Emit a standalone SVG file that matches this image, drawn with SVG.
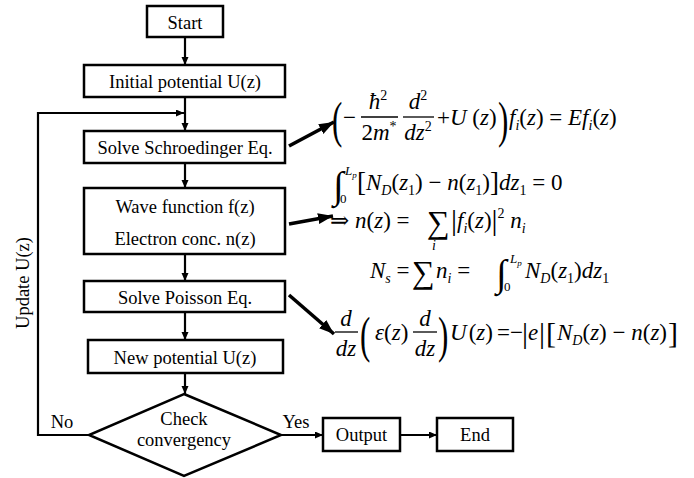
<svg xmlns="http://www.w3.org/2000/svg" width="694" height="478" viewBox="0 0 694 478">
  <style>
    .box { fill: #fff; stroke: #000; stroke-width: 2.5; }
    .lbl { font-family: 'Liberation Serif', 'DejaVu Serif', serif; font-size: 18.5px; fill: #000; text-anchor: middle; }
    .edge { fill: none; stroke: #000; stroke-width: 2.2; }
    .fat { fill: none; stroke: #000; stroke-width: 3.6; }
    .m { font-family: 'Liberation Serif', 'DejaVu Serif', serif; font-size: 23px; fill: #000; }
    .it { font-style: italic; }
    .sub { font-size: 14px; }
    .lim { font-size: 13px; }
    .limsub { font-size: 9px; }
    .big { font-size: 50px; }
    .op { font-size: 32px; }
    .int { font-size: 38px; }
    .tall { font-size: 30px; }
    .brk { font-size: 27px; }
    .bar { stroke: #000; stroke-width: 1.3; }
  </style>
  <defs>
    <marker id="head" markerUnits="userSpaceOnUse" markerWidth="9" markerHeight="8" refX="8" refY="3.5" orient="auto">
      <path d="M0,0 L8,3.5 L0,7 z" fill="#000"/>
    </marker>
    <marker id="bighead" markerUnits="userSpaceOnUse" markerWidth="16" markerHeight="12" refX="15" refY="5.5" orient="auto">
      <path d="M0,0 L15,5.5 L0,11 z" fill="#000"/>
    </marker>
  </defs>

  <rect width="694" height="478" fill="#fff"/>

  <!-- connectors -->
  <g id="connectors">
    <line class="edge" x1="185" y1="37" x2="185" y2="65" marker-end="url(#head)"/>
    <line class="edge" x1="185" y1="97" x2="185" y2="131" marker-end="url(#head)"/>
    <line class="edge" x1="185" y1="163" x2="185" y2="188" marker-end="url(#head)"/>
    <line class="edge" x1="185" y1="254" x2="185" y2="281" marker-end="url(#head)"/>
    <line class="edge" x1="185" y1="312" x2="185" y2="340" marker-end="url(#head)"/>
    <line class="edge" x1="185" y1="373" x2="185" y2="394" marker-end="url(#head)"/>
    <polyline class="edge" points="89,435 38,435 38,113 184,113" marker-end="url(#head)"/>
    <line class="edge" x1="281" y1="435" x2="323" y2="435" marker-end="url(#head)"/>
    <line class="edge" x1="400" y1="435" x2="437" y2="435" marker-end="url(#head)"/>
    <line class="fat" x1="289" y1="146" x2="334" y2="122" marker-end="url(#bighead)"/>
    <line class="fat" x1="289" y1="224" x2="333" y2="216" marker-end="url(#bighead)"/>
    <line class="fat" x1="289" y1="295" x2="334" y2="334" marker-end="url(#bighead)"/>
    <text class="lbl" x="62" y="428">No</text>
    <text class="lbl" x="296" y="428">Yes</text>
    <text class="lbl" transform="translate(29,283) rotate(-90)">Update U(z)</text>
  </g>

  <!-- flowchart nodes -->
  <g id="start">
    <rect class="box" x="147" y="6" width="76" height="31"/>
    <text class="lbl" x="185" y="29">Start</text>
  </g>
  <g id="initial">
    <rect class="box" x="84" y="65" width="201" height="32"/>
    <text class="lbl" x="185" y="88">Initial potential U(z)</text>
  </g>
  <g id="schroedinger">
    <rect class="box" x="84" y="131" width="201" height="32"/>
    <text class="lbl" x="185" y="154">Solve Schroedinger Eq.</text>
  </g>
  <g id="wave">
    <rect class="box" x="84" y="188" width="201" height="66"/>
    <text class="lbl" x="185" y="213">Wave function f(z)</text>
    <text class="lbl" x="185" y="245">Electron conc. n(z)</text>
  </g>
  <g id="poisson">
    <rect class="box" x="84" y="281" width="201" height="31"/>
    <text class="lbl" x="185" y="304">Solve Poisson Eq.</text>
  </g>
  <g id="newpot">
    <rect class="box" x="88" y="340" width="195" height="33"/>
    <text class="lbl" x="185" y="364">New potential U(z)</text>
  </g>
  <g id="check">
    <polygon class="box" points="184,394 281,435 184,476 89,435"/>
    <text class="lbl" x="184" y="425">Check</text>
    <text class="lbl" x="184" y="446">convergency</text>
  </g>
  <g id="output">
    <rect class="box" x="323" y="418" width="77" height="33"/>
    <text class="lbl" x="361.5" y="441">Output</text>
  </g>
  <g id="end">
    <rect class="box" x="437" y="418" width="76" height="33"/>
    <text class="lbl" x="475" y="441">End</text>
  </g>

  <!-- Schroedinger equation -->
  <g id="eq-schroedinger">
    <text class="m big" transform="translate(332,137) scale(0.62,1)">(</text>
    <text class="m" x="343" y="125">−</text>
    <text class="m it" x="378" y="109" text-anchor="middle">ħ<tspan class="sub" font-style="normal" dy="-9">2</tspan></text>
    <line class="bar" x1="361" y1="117" x2="398" y2="117"/>
    <text class="m" x="379" y="140" text-anchor="middle">2<tspan class="it">m</tspan><tspan class="sub" dy="-9">*</tspan></text>
    <text class="m it" x="418" y="109" text-anchor="middle">d<tspan class="sub" font-style="normal" dy="-9">2</tspan></text>
    <line class="bar" x1="403" y1="117" x2="434" y2="117"/>
    <text class="m it" x="418" y="140" text-anchor="middle">dz<tspan class="sub" font-style="normal" dy="-9">2</tspan></text>
    <text class="m" x="437" y="125">+<tspan class="it">U</tspan> (<tspan class="it">z</tspan>)</text>
    <text class="m big" transform="translate(498,137) scale(0.62,1)">)</text>
    <text class="m" x="509" y="125"><tspan class="it">f</tspan><tspan class="it sub" dy="5">i</tspan><tspan dy="-5">(</tspan><tspan class="it">z</tspan>) = <tspan class="it">Ef</tspan><tspan class="it sub" dy="5">i</tspan><tspan dy="-5">(</tspan><tspan class="it">z</tspan>)</text>
  </g>

  <!-- charge neutrality -->
  <g id="eq-neutral">
    <text class="m int" x="333" y="198">∫</text>
    <text class="m it lim" x="345" y="175">L<tspan class="limsub" dy="3">p</tspan></text>
    <text class="m lim" x="340" y="203">0</text>
    <text class="m" x="357" y="190"><tspan class="brk" dy="1">[</tspan><tspan class="it" dy="-1">N</tspan><tspan class="it sub" dy="5">D</tspan><tspan dy="-5">(</tspan><tspan class="it">z</tspan><tspan class="sub" dy="5">1</tspan><tspan dy="-5">) − </tspan><tspan class="it">n</tspan>(<tspan class="it">z</tspan><tspan class="sub" dy="5">1</tspan><tspan dy="-5">)</tspan><tspan class="brk" dy="1">]</tspan><tspan class="it" dy="-1">dz</tspan><tspan class="sub" dy="5">1</tspan><tspan dy="-5"> = 0</tspan></text>
  </g>

  <!-- electron density -->
  <g id="eq-density">
    <text class="m" x="330" y="228">⇒ <tspan class="it">n</tspan>(<tspan class="it">z</tspan>) =</text>
    <text class="m op" x="427" y="233">∑</text>
    <text class="m it sub" x="432" y="250">i</text>
    <text class="m" x="451" y="228"><tspan class="tall" dy="2">|</tspan><tspan class="it" dy="-2">f</tspan><tspan class="it sub" dy="5">i</tspan><tspan dy="-5">(</tspan><tspan class="it">z</tspan>)<tspan class="tall" dy="2">|</tspan><tspan class="sub" dy="-12">2</tspan><tspan class="it" dy="10"> n</tspan><tspan class="it sub" dy="5">i</tspan></text>
  </g>

  <!-- sheet density -->
  <g id="eq-sheet">
    <text class="m" x="370" y="278"><tspan class="it">N</tspan><tspan class="it sub" dy="5">s</tspan><tspan dy="-5"> =</tspan></text>
    <text class="m op" x="412" y="283">∑</text>
    <text class="m" x="436" y="278"><tspan class="it">n</tspan><tspan class="it sub" dy="5">i</tspan><tspan dy="-5"> =</tspan></text>
    <text class="m int" x="496" y="286">∫</text>
    <text class="m it lim" x="510" y="263">L<tspan class="limsub" dy="3">p</tspan></text>
    <text class="m lim" x="504" y="291">0</text>
    <text class="m" x="525" y="278"><tspan class="it">N</tspan><tspan class="it sub" dy="5">D</tspan><tspan dy="-5">(</tspan><tspan class="it">z</tspan><tspan class="sub" dy="5">1</tspan><tspan dy="-5">)</tspan><tspan class="it">dz</tspan><tspan class="sub" dy="5">1</tspan></text>
  </g>

  <!-- Poisson equation -->
  <g id="eq-poisson">
    <text class="m it" x="346" y="326" text-anchor="middle">d</text>
    <line class="bar" x1="335" y1="332" x2="358" y2="332"/>
    <text class="m it" x="346" y="356" text-anchor="middle">dz</text>
    <text class="m big" transform="translate(360,352) scale(0.62,1)">(</text>
    <text class="m" x="375" y="340"><tspan class="it">ε</tspan>(<tspan class="it">z</tspan>)</text>
    <text class="m it" x="425" y="326" text-anchor="middle">d</text>
    <line class="bar" x1="413" y1="332" x2="437" y2="332"/>
    <text class="m it" x="425" y="356" text-anchor="middle">dz</text>
    <text class="m big" transform="translate(438,352) scale(0.62,1)">)</text>
    <text class="m" x="450" y="340"><tspan class="it">U</tspan><tspan dx="2">(</tspan><tspan class="it">z</tspan>)</text>
    <text class="m" x="497" y="340">=</text>
    <text class="m" x="510" y="340">−</text>
    <text class="m tall" x="522" y="343">|</text>
    <text class="m it" x="528" y="340">e</text>
    <text class="m tall" x="539" y="343">|</text>
    <text class="m tall" x="546" y="343">[</text>
    <text class="m" x="557" y="340"><tspan class="it">N</tspan><tspan class="it sub" dy="5">D</tspan><tspan dy="-5">(</tspan><tspan class="it">z</tspan>) − <tspan class="it">n</tspan>(<tspan class="it">z</tspan>)</text>
    <text class="m tall" x="668" y="343">]</text>
  </g>
</svg>
